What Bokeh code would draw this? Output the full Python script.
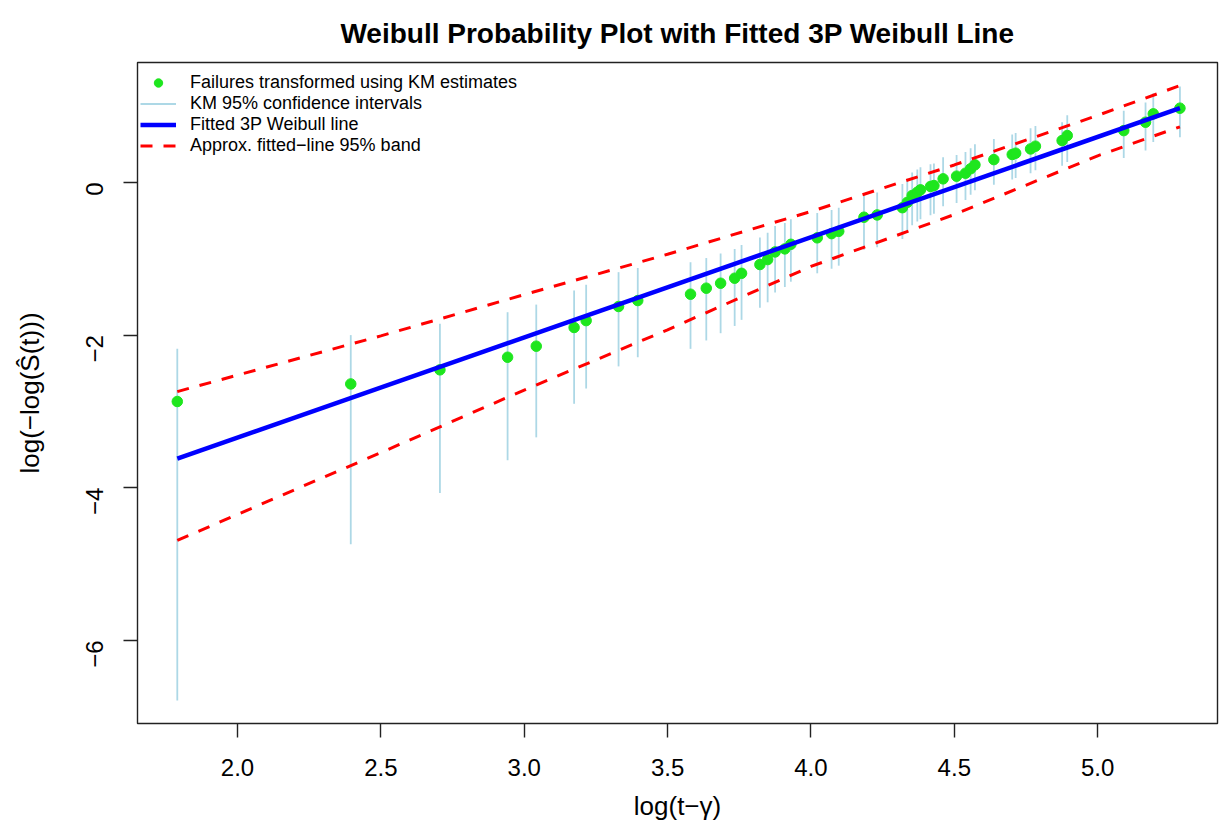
import math
from bokeh.plotting import figure
from bokeh.models import Range1d, FixedTicker, Legend, LegendItem, ColumnDataSource
from bokeh.embed import file_html
from bokeh.resources import INLINE

# ---- data ----
pt_x = [1.790, 2.395, 2.706, 2.942, 3.042, 3.174, 3.216, 3.329, 3.396, 3.580,
        3.635, 3.685, 3.734, 3.758, 3.822, 3.849, 3.875, 3.909, 3.930, 4.022,
        4.072, 4.097, 4.185, 4.231, 4.319, 4.336, 4.353, 4.371, 4.382, 4.417,
        4.429, 4.461, 4.508, 4.539, 4.557, 4.572, 4.638, 4.702, 4.714, 4.766,
        4.783, 4.876, 4.894, 5.091, 5.167, 5.194, 5.287]
pt_y = [-2.87, -2.64, -2.455, -2.29, -2.145, -1.90, -1.81, -1.625, -1.547, -1.464,
        -1.385, -1.32, -1.254, -1.19, -1.075, -1.01, -0.91, -0.87, -0.81, -0.725,
        -0.67, -0.64, -0.455, -0.425, -0.33, -0.26, -0.17, -0.127, -0.096, -0.052,
        -0.04, 0.048, 0.083, 0.122, 0.18, 0.232, 0.30, 0.367, 0.384, 0.44,
        0.476, 0.55, 0.616, 0.68, 0.79, 0.90, 0.974]
ci_hi = [-2.18, -2.00, -1.85, -1.70, -1.60, -1.415, -1.34, -1.175, -1.12, -1.045,
         -0.99, -0.93, -0.87, -0.82, -0.72, -0.66, -0.57, -0.53, -0.48, -0.40,
         -0.36, -0.33, -0.16, -0.13, -0.02, 0.05, 0.13, 0.17, 0.20, 0.24,
         0.25, 0.33, 0.36, 0.40, 0.45, 0.50, 0.57, 0.63, 0.65, 0.71,
         0.74, 0.79, 0.88, 0.94, 1.05, 1.17, 1.258]
ci_lo = [-6.79, -4.74, -4.07, -3.64, -3.34, -2.90, -2.70, -2.41, -2.29, -2.18,
         -2.07, -1.975, -1.88, -1.80, -1.64, -1.57, -1.44, -1.37, -1.30, -1.19,
         -1.13, -1.09, -0.88, -0.85, -0.74, -0.66, -0.56, -0.51, -0.48, -0.43,
         -0.41, -0.31, -0.27, -0.23, -0.16, -0.10, -0.03, 0.04, 0.06, 0.12,
         0.16, 0.22, 0.27, 0.32, 0.42, 0.53, 0.594]

fit_x = [1.790, 5.287]
fit_y = [-3.62, 0.974]

band_x = [1.790, 2.5, 3.0, 3.5, 4.0, 4.5, 5.0, 5.287]
band_hi = [-2.74, -2.01, -1.47, -0.94, -0.38, 0.23, 0.88, 1.27]
band_lo = [-4.69, -3.54, -2.72, -1.93, -1.10, -0.42, 0.35, 0.73]

x_ticks = [2.0, 2.5, 3.0, 3.5, 4.0, 4.5, 5.0]
x_tick_labels = ["2.0", "2.5", "3.0", "3.5", "4.0", "4.5", "5.0"]
y_ticks = [-6, -4, -2, 0]
y_tick_labels = ["\u22126", "\u22124", "\u22122", "0"]

FONT = "Liberation Sans"
FRAME_H = 661
LEG_ROW = 21

p = figure(width=1220, height=828, output_backend="svg", toolbar_location=None,
           x_range=Range1d(1.6512, 5.418), y_range=Range1d(-7.09, 1.5727),
           min_border_left=137, min_border_right=3, min_border_top=62, min_border_bottom=105,
           title="Weibull Probability Plot with Fitted 3P Weibull Line")

p.title.align = "center"
p.title.text_font = FONT
p.title.text_font_size = "28px"
p.title.text_font_style = "bold"
p.title.text_color = "black"
p.title.standoff = 28

p.xgrid.visible = False
p.ygrid.visible = False
p.outline_line_color = "#222222"
p.outline_line_width = 1.4
p.background_fill_color = "white"

for ax in (p.xaxis[0], p.yaxis[0]):
    ax.axis_line_color = None
    ax.major_tick_out = 14
    ax.major_tick_in = 0
    ax.minor_tick_line_color = None
    ax.major_tick_line_color = "#222222"
    ax.major_tick_line_width = 1.4
    ax.major_label_text_font = FONT
    ax.major_label_text_font_size = "24px"
    ax.major_label_text_color = "black"
    ax.axis_label_text_font = FONT
    ax.axis_label_text_font_size = "26px"
    ax.axis_label_text_font_style = "normal"
    ax.axis_label_text_color = "black"

p.xaxis.ticker = FixedTicker(ticks=x_ticks)
p.xaxis.major_label_overrides = dict(zip(x_ticks, x_tick_labels))
p.yaxis.ticker = FixedTicker(ticks=y_ticks)
p.yaxis.major_label_overrides = dict(zip(y_ticks, y_tick_labels))
p.yaxis.major_label_orientation = math.pi / 2
p.xaxis.axis_label = "log(t\u2212\u03b3)"
p.yaxis.axis_label = "log(\u2212log(S\u0302(t)))"
p.xaxis.major_label_standoff = 21
p.yaxis.major_label_standoff = 29
p.xaxis.axis_label_standoff = 12
p.yaxis.axis_label_standoff = 30

src = ColumnDataSource(dict(x=pt_x, y=pt_y, lo=ci_lo, hi=ci_hi))

r_ci = p.segment(x0="x", y0="lo", x1="x", y1="hi", source=src,
                 line_color="#ADD8E6", line_width=1.8)
r_pts = p.scatter(x="x", y="y", source=src, size=10.5, fill_color="#1ee61e",
                  line_color="#1ee61e", marker="circle")
r_fit = p.line(fit_x, fit_y, line_color="#0000FF", line_width=4.5)
r_bhi = p.line(band_x, band_hi, line_color="#FF0000", line_width=3, line_dash="12 11")
r_blo = p.line(band_x, band_lo, line_color="#FF0000", line_width=3, line_dash="12 11")

legend = Legend(items=[
    LegendItem(label="Failures transformed using KM estimates", renderers=[r_pts]),
    LegendItem(label="KM 95% confidence intervals", renderers=[r_ci]),
    LegendItem(label="Fitted 3P Weibull line", renderers=[r_fit]),
    LegendItem(label="Approx. fitted\u2212line 95% band", renderers=[r_bhi]),
], location=(3, FRAME_H - 10 - 4 * LEG_ROW))
legend.border_line_color = None
legend.background_fill_alpha = 0
legend.label_text_font = FONT
legend.label_text_font_size = "18px"
legend.label_text_color = "black"
legend.glyph_width = 36
legend.glyph_height = LEG_ROW
legend.label_height = LEG_ROW
legend.spacing = 0
legend.padding = 0
legend.margin = 0
legend.label_standoff = 14
p.add_layout(legend)

open("out.html", "w").write(file_html(p, INLINE))
